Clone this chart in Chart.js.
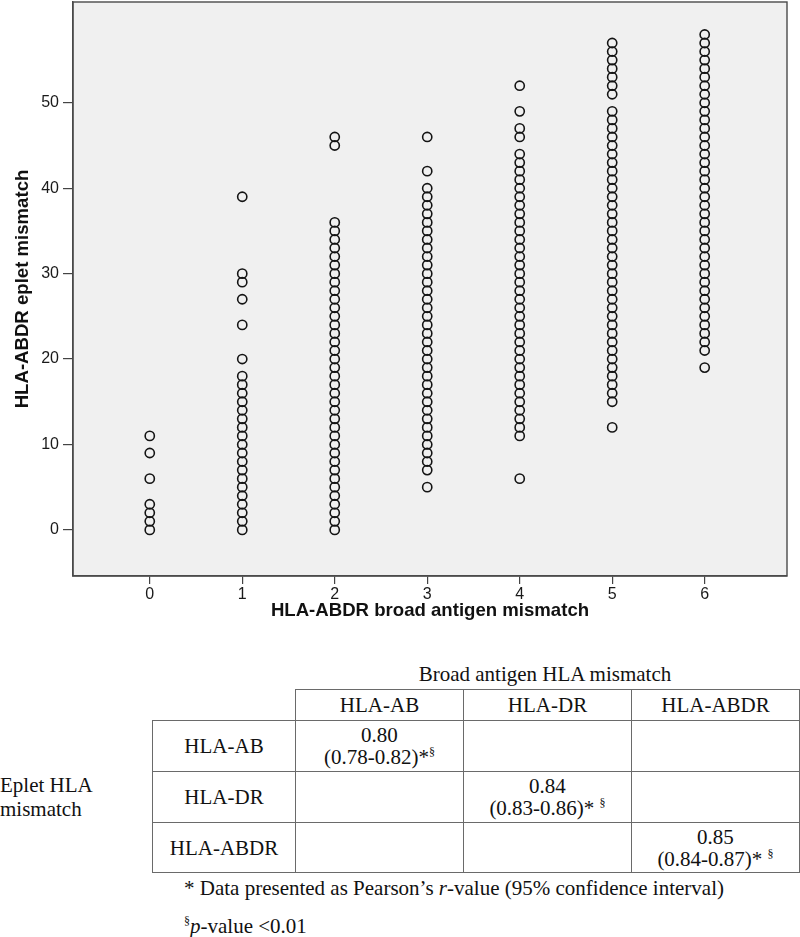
<!DOCTYPE html>
<html><head><meta charset="utf-8">
<script src="https://cdn.jsdelivr.net/npm/chart.js@4.4.0/dist/chart.umd.min.js"></script>
<style>
body{margin:0;background:#fff;width:800px;height:937px;overflow:hidden;position:relative;font-family:"Liberation Serif","Times New Roman",serif;color:#111}
#wrap{position:absolute;left:0;top:0;width:800px;height:650px}
.t{position:absolute;font-size:21px;line-height:22px;white-space:nowrap}
.cell{position:absolute;border:1px solid #6a6a6a;box-sizing:border-box;display:flex;align-items:center;justify-content:center;text-align:center;font-size:21px;line-height:22px}
sup{font-size:12px;vertical-align:8px;line-height:0}
</style></head><body>
<div id="wrap"><canvas id="c" width="800" height="650"></canvas></div>
<div id="tbl"></div>
<script>
// ---- data ----
const broadMismatch = [0, 1, 2, 3, 4, 5, 6];
const epletAt0 = [0, 1, 2, 3, 6, 9, 11];
const epletAt1 = [0, 1, 2, 3, 4, 5, 6, 7, 8, 9, 10, 11, 12, 13, 14, 15, 16, 17, 18, 20, 24, 27, 29, 30, 39];
const epletAt2 = [0, 1, 2, 3, 4, 5, 6, 7, 8, 9, 10, 11, 12, 13, 14, 15, 16, 17, 18, 19, 20, 21, 22, 23, 24, 25, 26, 27, 28, 29, 30, 31, 32, 33, 34, 35, 36, 45, 46];
const epletAt3 = [5, 7, 8, 9, 10, 11, 12, 13, 14, 15, 16, 17, 18, 19, 20, 21, 22, 23, 24, 25, 26, 27, 28, 29, 30, 31, 32, 33, 34, 35, 36, 37, 38, 39, 40, 42, 46];
const epletAt4 = [6, 11, 12, 13, 14, 15, 16, 17, 18, 19, 20, 21, 22, 23, 24, 25, 26, 27, 28, 29, 30, 31, 32, 33, 34, 35, 36, 37, 38, 39, 40, 41, 42, 43, 44, 46, 47, 49, 52];
const epletAt5 = [12, 15, 16, 17, 18, 19, 20, 21, 22, 23, 24, 25, 26, 27, 28, 29, 30, 31, 32, 33, 34, 35, 36, 37, 38, 39, 40, 41, 42, 43, 44, 45, 46, 47, 48, 49, 51, 52, 53, 54, 55, 56, 57];
const epletAt6 = [19, 21, 22, 23, 24, 25, 26, 27, 28, 29, 30, 31, 32, 33, 34, 35, 36, 37, 38, 39, 40, 41, 42, 43, 44, 45, 46, 47, 48, 49, 50, 51, 52, 53, 54, 55, 56, 57, 58];
const yTickValues = [0, 10, 20, 30, 40, 50];
const xTitle = "HLA-ABDR broad antigen mismatch";
const yTitle = "HLA-ABDR eplet mismatch";

const tableTitle = "Broad antigen HLA mismatch";
const tableColHeaders = ["HLA-AB", "HLA-DR", "HLA-ABDR"];
const tableRowHeaders = ["HLA-AB", "HLA-DR", "HLA-ABDR"];
const rValues = ["0.80", "0.84", "0.85"];
const rIntervals = ["(0.78-0.82)*", "(0.83-0.86)* ", "(0.84-0.87)* "];
const rowGroupLabel = ["Eplet HLA", "mismatch"];

// ---- chart ----
const columns = [epletAt0, epletAt1, epletAt2, epletAt3, epletAt4, epletAt5, epletAt6];
const points = [];
columns.forEach((col, i) => col.forEach(v => points.push({x: broadMismatch[i], y: v})));

Chart.defaults.font.family = '"Liberation Sans", Arial, sans-serif';
Chart.defaults.color = '#1a1a1a';

const frame = {
  id: 'frame',
  beforeDraw(chart) {
    const {ctx, chartArea: a} = chart;
    ctx.save();
    ctx.fillStyle = '#f0f0f0';
    ctx.fillRect(a.left, a.top, a.right - a.left, a.bottom - a.top);
    ctx.restore();
  },
  afterDraw(chart) {
    const {ctx, chartArea: a} = chart;
    ctx.save();
    ctx.strokeStyle = '#4a4a4a';
    ctx.lineWidth = 1.4;
    ctx.strokeRect(a.left, a.top, a.right - a.left, a.bottom - a.top);
    ctx.restore();
  }
};

new Chart(document.getElementById('c'), {
  type: 'scatter',
  data: {datasets: [{
    data: points,
    pointStyle: 'circle',
    pointRadius: 4.6,
    pointBorderWidth: 1.6,
    borderColor: '#141414',
    backgroundColor: 'rgba(0,0,0,0)'
  }]},
  options: {
    responsive: false,
    animation: false,
    events: [],
    layout: {autoPadding: false, padding: {top: 2, right: 13, left: 0, bottom: 0}},
    plugins: {legend: {display: false}, tooltip: {enabled: false}},
    scales: {
      x: {
        type: 'linear', min: -0.83, max: 6.89,
        afterBuildTicks: s => { s.ticks = broadMismatch.map(v => ({value: v})); },
        afterFit: s => { s.height = 74; s.paddingLeft = 0; s.paddingRight = 0; },
        grid: {drawOnChartArea: false, drawTicks: true, tickLength: 8, color: '#444', lineWidth: 1.2},
        border: {display: true, color: '#4a4a4a', width: 1.4},
        ticks: {font: {size: 16}, padding: 1, color: '#1a1a1a', maxRotation: 0},
        title: {display: true, text: xTitle, font: {size: 18.6, weight: 'bold'}, color: '#111', padding: {top: 0, bottom: 28}}
      },
      y: {
        type: 'linear', min: -5.4, max: 61.8,
        afterBuildTicks: s => { s.ticks = yTickValues.map(v => ({value: v})); },
        afterFit: s => { s.width = 73; s.paddingTop = 0; s.paddingBottom = 0; },
        grid: {drawOnChartArea: false, drawTicks: true, tickLength: 10, color: '#444', lineWidth: 1.2},
        border: {display: true, color: '#4a4a4a', width: 1.4},
        ticks: {font: {size: 16}, padding: 4, color: '#1a1a1a'},
        title: {display: true, text: yTitle, font: {size: 18.6, weight: 'bold'}, color: '#111', padding: {top: 12, bottom: 0}}
      }
    }
  },
  plugins: [frame]
});

// ---- table ----
const tbl = document.getElementById('tbl');
const colEdges = [152, 295, 463, 631, 799];
const rowEdges = [689, 720, 771, 822, 872];
function cell(c, r, html) {
  const d = document.createElement('div');
  d.className = 'cell';
  d.style.left = colEdges[c] + 'px';
  d.style.top = rowEdges[r] + 'px';
  d.style.width = (colEdges[c + 1] - colEdges[c] + 1) + 'px';
  d.style.height = (rowEdges[r + 1] - rowEdges[r] + 1) + 'px';
  d.innerHTML = html;
  tbl.appendChild(d);
}
function text(x, y, html, extra) {
  const d = document.createElement('div');
  d.className = 't';
  d.style.left = x + 'px';
  d.style.top = y + 'px';
  if (extra) Object.assign(d.style, extra);
  d.innerHTML = html;
  tbl.appendChild(d);
}
tableColHeaders.forEach((h, i) => cell(i + 1, 0, h));
tableRowHeaders.forEach((h, r) => {
  cell(0, r + 1, h);
  for (let c = 0; c < 3; c++) {
    cell(c + 1, r + 1, c === r ? `<div>${rValues[r]}<br>${rIntervals[r]}<sup>§</sup></div>` : '');
  }
});
text(295, 663, tableTitle, {width: '500px', textAlign: 'center'});
text(0, 774, rowGroupLabel[0]);
text(0, 798, rowGroupLabel[1]);
text(184, 877, "* Data presented as Pearson’s <i>r</i>-value (95% confidence interval)");
text(184, 915, "<sup>§</sup><i>p</i>-value &lt;0.01");
</script>
</body></html>
